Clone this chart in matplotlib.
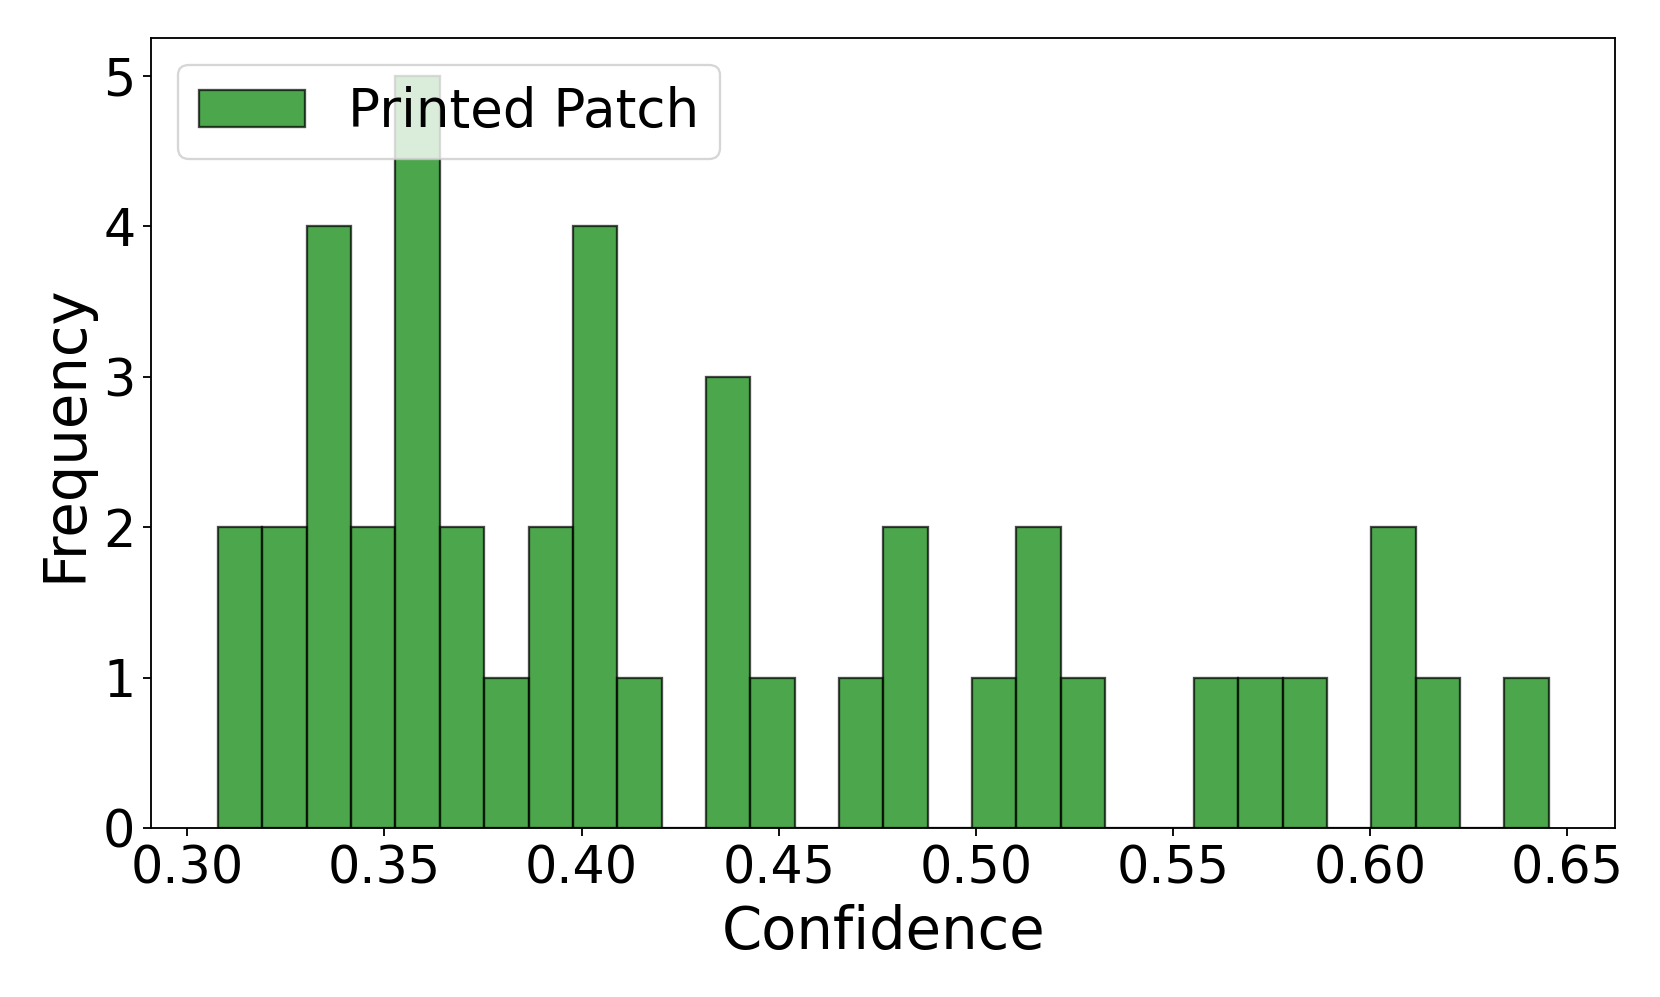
# 置信度直方图 (Printed Patch)
import matplotlib
matplotlib.use('Agg')
import matplotlib.pyplot as plt
import numpy as np

# 30 个区间的计数
counts = [2, 2, 4, 2, 5, 2, 1, 2, 4, 1,
          0, 3, 1, 0, 1, 2, 0, 1, 2, 1,
          0, 0, 1, 1, 1, 0, 2, 1, 0, 1]
bin_lo = 0.3078
bin_hi = 0.6453
n_bins = 30
xticks = [0.30, 0.35, 0.40, 0.45, 0.50, 0.55, 0.60, 0.65]

edges = np.linspace(bin_lo, bin_hi, n_bins + 1)
centers = (edges[:-1] + edges[1:]) / 2

fig = plt.figure(figsize=(1661/166, 997/166), dpi=166)
ax = fig.add_axes([0.0912, 0.1691, 0.9725 - 0.0912, 0.9618 - 0.1691])

ax.hist(centers, bins=edges, weights=counts, color='green', alpha=0.7,
        edgecolor='black', label='Printed Patch')

ax.set_xticks(xticks)
ax.set_xticklabels(['%.2f' % t for t in xticks])
ax.tick_params(labelsize=22)
ax.set_xlabel('Confidence', fontsize=25)
ax.set_ylabel('Frequency', fontsize=25)
ax.legend(loc='upper left', fontsize=23)

fig.savefig('out.png', dpi=166)
